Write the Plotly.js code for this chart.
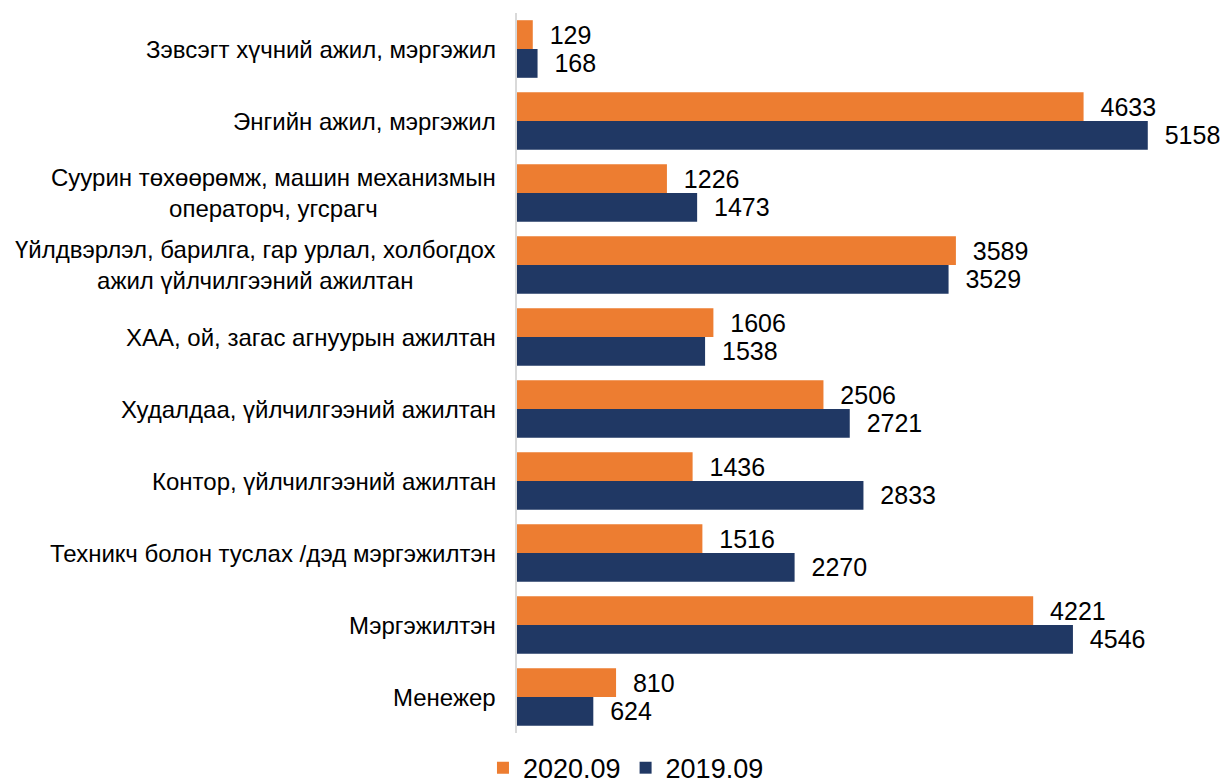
<!DOCTYPE html>
<html><head><meta charset="utf-8">
<script src="https://cdn.plot.ly/plotly-3.0.1.min.js"></script>
<style>html,body{margin:0;padding:0;background:#fff}#c{width:1225px;height:783px}</style>
</head><body><div id="c"></div>
<script>
const categories = [
  "Зэвсэгт хүчний ажил, мэргэжил",
  "Энгийн ажил, мэргэжил",
  "Суурин төхөөрөмж, машин механизмын<br>операторч, угсрагч",
  "Үйлдвэрлэл, барилга, гар урлал, холбогдох<br>ажил үйлчилгээний ажилтан",
  "ХАА, ой, загас агнуурын ажилтан",
  "Худалдаа, үйлчилгээний ажилтан",
  "Контор, үйлчилгээний ажилтан",
  "Техникч болон туслах /дэд мэргэжилтэн",
  "Мэргэжилтэн",
  "Менежер"
];
const series2020Name = "2020.09";
const series2019Name = "2019.09";
const values2020 = [129, 4633, 1226, 3589, 1606, 2506, 1436, 1516, 4221, 810];
const values2019 = [168, 5158, 1473, 3529, 1538, 2721, 2833, 2270, 4546, 624];

const FONT = "Liberation Sans, Arial, sans-serif";
const pad = "\u00a0\u00a0";
function bar(name, vals, color) {
  return {
    type: "bar", orientation: "h", name: name,
    y: categories, x: vals,
    marker: {color: color},
    text: vals.map(v => pad + v), textposition: "outside",
    textfont: {family: FONT, size: 25, color: "#000"},
    cliponaxis: false, constraintext: "none",
    hoverinfo: "x+y"
  };
}
const data = [
  bar(series2020Name, values2020, "#ED7D31"),
  bar(series2019Name, values2019, "#203864")
];
const annotations = categories.map(c => ({
  xref: "paper", yref: "y", x: 0, y: c, xanchor: "right", yanchor: "middle",
  xshift: -19, align: "center", showarrow: false, text: c,
  font: {family: FONT, size: 24, color: "#000"}
}));
const layout = {
  width: 1225, height: 783,
  margin: {l: 517, r: 25, t: 13, b: 50},
  paper_bgcolor: "#fff", plot_bgcolor: "#fff",
  barmode: "group", bargap: 0.2, bargroupgap: 0,
  font: {family: FONT, color: "#000"},
  xaxis: {range: [0, 5585], showgrid: false, zeroline: false, showticklabels: false, ticks: "", showline: false},
  yaxis: {autorange: "reversed", showticklabels: false, ticks: "", showgrid: false, zeroline: false,
          showline: true, linecolor: "#d9d9d9", linewidth: 2},
  showlegend: true,
  legend: {orientation: "h", xref: "container", x: 0.511, xanchor: "center",
           yref: "container", y: 0.019, yanchor: "middle",
           font: {family: FONT, size: 27, color: "#000"}, itemwidth: 30, traceorder: "normal"},
  annotations: annotations
};
Plotly.newPlot("c", data, layout, {displayModeBar: false, staticPlot: true});
</script></body></html>
